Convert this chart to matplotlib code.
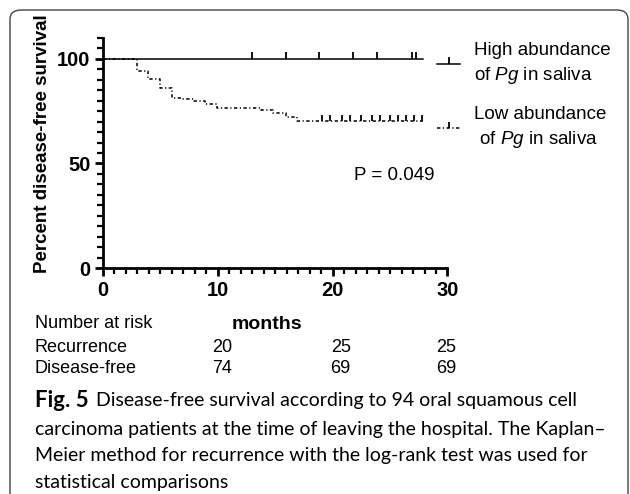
import numpy as np
import matplotlib
matplotlib.use("Agg")
import matplotlib.pyplot as plt
from matplotlib.patches import FancyBboxPatch
from matplotlib.lines import Line2D
from matplotlib.ticker import MultipleLocator
import matplotlib.transforms as mtransforms

plt.rcParams['font.family'] = ['Liberation Sans', 'DejaVu Sans']
plt.rcParams['mathtext.fontset'] = 'custom'
plt.rcParams['mathtext.it'] = 'Liberation Sans:italic'
plt.rcParams['mathtext.rm'] = 'Liberation Sans'

# Kaplan-Meier curves (months, percent disease-free)
high_t = [0, 27.9]
high_s = [100, 100]
high_cens_t = [13.0, 15.9, 18.8, 21.8, 23.9, 26.9, 27.3]

low_t = [0, 2.94, 3.95, 4.97, 5.98, 6.94, 7.93, 8.88, 9.9, 13.8, 14.8, 15.9, 16.9, 27.9]
low_s = [100, 94.4, 90.4, 86.1, 81.2, 80.6, 79.7, 78.4, 76.6, 75.5, 74.2, 72.1, 70.4, 70.4]
low_cens_t = [19.05, 19.8, 20.8, 21.5, 22.5, 23.4, 24.1, 25.0, 25.7, 26.4, 27.1, 27.8]

risk_months = [10, 20, 30]
risk_rows = ["Recurrence", "Disease-free"]
risk_recurrence = [20, 25, 25]
risk_diseasefree = [74, 69, 69]

p_text = "P = 0.049"

fig = plt.figure(figsize=(6.3, 4.94), dpi=100)
ax = fig.add_axes([103/630, 1-268/494, 344.5/630, 230/494])

low_style = (0, (2.2, 1.6, 0.8, 1.6))
ax.plot(high_t, high_s, drawstyle='steps-post', color='black', lw=1.1, clip_on=False)
ax.plot(high_cens_t, np.interp(high_cens_t, high_t, high_s), ls='none', marker=2,
        ms=5, mew=1.3, color='black', clip_on=False)
ax.plot(low_t, low_s, drawstyle='steps-post', color='black', lw=1.1, ls=low_style, clip_on=False)
low_cens_s = [low_s[-1]] * len(low_cens_t)
ax.plot(low_cens_t, low_cens_s, ls='none', marker=2, ms=4, mew=1.3, color='black', clip_on=False)

ax.set_xlim(0, 30)
ax.set_ylim(0, 110)
ax.spines['top'].set_visible(False)
ax.spines['right'].set_visible(False)
for s in ['left', 'bottom']:
    ax.spines[s].set_linewidth(2)
ax.set_xticks([0, 10, 20, 30])
ax.set_yticks([0, 50, 100])
ax.xaxis.set_minor_locator(MultipleLocator(1))
ax.yaxis.set_minor_locator(MultipleLocator(5))
ax.tick_params(which='major', direction='out', length=6, width=2, labelsize=14.5, pad=3)
ax.tick_params(which='minor', direction='out', length=4, width=1.6)
for lab in ax.get_xticklabels() + ax.get_yticklabels():
    lab.set_fontweight('bold')
ax.set_ylabel("Percent disease-free survival", fontsize=13.5, fontweight='bold')
ax.yaxis.set_label_coords(-0.177, 0.539)
ax.yaxis.label.set_va('center')
ax.set_xlabel("months", fontsize=14, fontweight='bold')
ax.xaxis.set_label_coords(0.476, -0.2435)
ax.xaxis.label.set_va('center')

# legend
h_high = Line2D([], [], color='black', lw=1.1, marker=2, ms=5, mew=1.3)
h_low = Line2D([], [], color='black', lw=1.1, ls=low_style, marker=2, ms=4, mew=1.3)
leg = ax.legend([h_high, h_low],
                ["High abundance\nof $\\it{Pg}$ in saliva", "Low abundance\n of $\\it{Pg}$ in saliva"],
                loc='upper left', bbox_to_anchor=(0.9695, 0.982), frameon=False, fontsize=13.5,
                handlelength=1.25, handletextpad=0.7, labelspacing=1.05, borderpad=0,
                borderaxespad=0, numpoints=1)
for t in leg.get_texts():
    t.set_linespacing(1.4)

ax.text(0.845, 0.404, p_text, transform=ax.transAxes, fontsize=13.5, ha='center', va='center')

# number at risk table
risk_shift = [0.4, 0.7, -0.1]
tr = mtransforms.blended_transform_factory(ax.transData, fig.transFigure)
fig.text(35/630, 1-324/494, "Number at risk", fontsize=13, va='center')
for i, (name, vals) in enumerate(zip(risk_rows, [risk_recurrence, risk_diseasefree])):
    y = 1 - (348 + 20*i)/494
    fig.text(35/630, y, name, fontsize=13, va='center')
    for m, v, d in zip(risk_months, vals, risk_shift):
        ax.text(m + d, y, str(v), transform=tr, fontsize=13, ha='center', va='center')

# caption
cap_font = ['Lato', 'DejaVu Sans']
cap_size = 14
cap_lines = ["carcinoma patients at the time of leaving the hospital. The Kaplan\u2013",
             "Meier method for recurrence with the log-rank test was used for",
             "statistical comparisons"]
fig.canvas.draw()
rend = fig.canvas.get_renderer()
t0 = fig.text(35/630, 1-400/494, "Fig. 5", fontsize=16, fontweight='bold',
              family=cap_font, va='center')
bb = t0.get_window_extent(rend)
fig.text(bb.x1/630 + 7/630, 1-400/494, "Disease-free survival according to 94 oral squamous cell",
         fontsize=cap_size, family=cap_font, va='center')
for i, line in enumerate(cap_lines):
    fig.text(35/630, 1-(429 + 26.5*i)/494, line, fontsize=cap_size, family=cap_font, va='center')

# frame
fig.patches.append(FancyBboxPatch((10/630, -0.05), 618/630, 1.05 - 10/494,
                                  boxstyle="round,pad=0,rounding_size=0.018",
                                  transform=fig.transFigure, fill=False, lw=1, ec='#444444'))

fig.savefig("out.png", dpi=100)
